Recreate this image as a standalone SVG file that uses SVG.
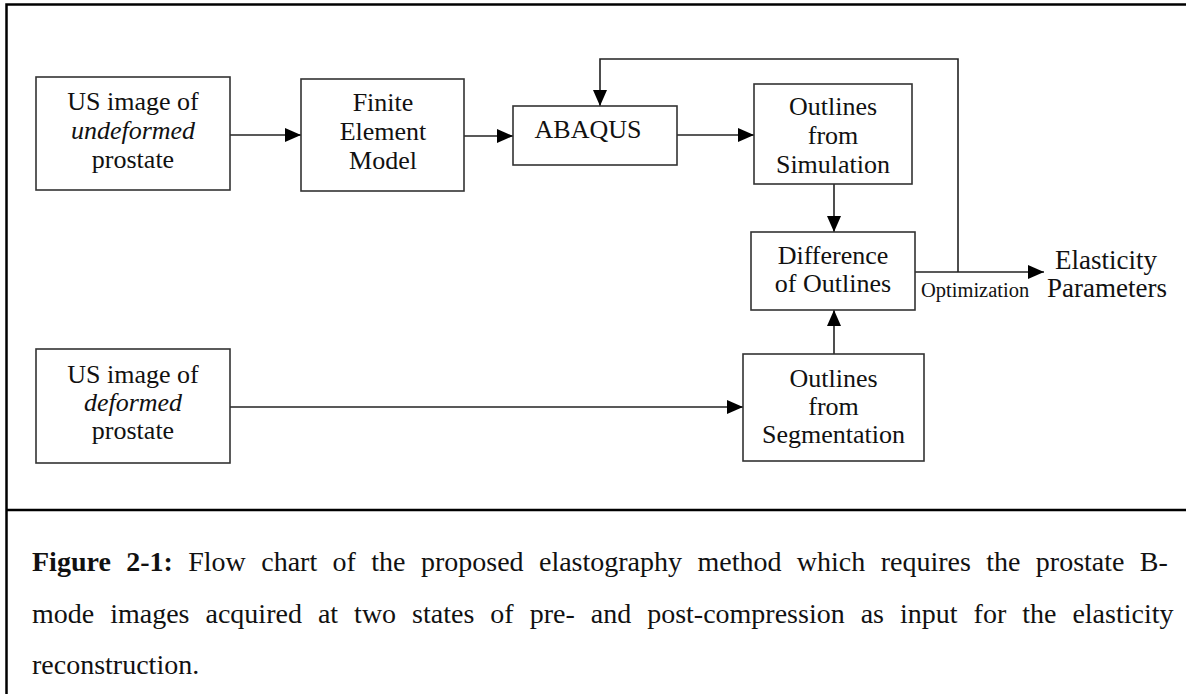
<svg xmlns="http://www.w3.org/2000/svg" width="1186" height="694" viewBox="0 0 1186 694">
<style>
.box{fill:#fff;stroke:#333;stroke-width:1.6}
.t{font-family:"Liberation Serif","Times New Roman",serif;font-size:26px;fill:#111;text-anchor:middle}
.i{font-style:italic}
.edge{fill:none;stroke:#222;stroke-width:1.6}
.frame{fill:none;stroke:#000;stroke-width:2.5}
.cap{font-family:"Liberation Serif","Times New Roman",serif;font-size:28px;fill:#111}
</style>
<defs>
<marker id="ah" markerUnits="userSpaceOnUse" markerWidth="16" markerHeight="14" refX="16" refY="7" orient="auto">
<path d="M0,0 L16,7 L0,14 z" fill="#000"/>
</marker>
</defs>
<rect width="1186" height="694" fill="#fff"/>
<g id="frame">
<path class="frame" d="M1190,4.5 H6.5 V700"/>
<path class="frame" d="M6.5,510 H1190" stroke-width="2.2"/>
</g>
<g id="connectors">
<path class="edge" d="M230,135 H301" marker-end="url(#ah)"/>
<path class="edge" d="M464,136 H513" marker-end="url(#ah)"/>
<path class="edge" d="M677,135 H754" marker-end="url(#ah)"/>
<path class="edge" d="M834,184 V232" marker-end="url(#ah)"/>
<path class="edge" d="M834,354 V310" marker-end="url(#ah)"/>
<path class="edge" d="M230,407 H743" marker-end="url(#ah)"/>
<path class="edge" d="M915,272 H1044" marker-end="url(#ah)"/>
<path class="edge" d="M958,272 V59 H600 V106" marker-end="url(#ah)"/>
</g>
<g id="us-undeformed">
<rect class="box" x="36" y="77" width="194" height="113"/>
<text class="t" x="133" y="110">US image of</text>
<text class="t i" x="133" y="139">undeformed</text>
<text class="t" x="133" y="168">prostate</text>
</g>
<g id="fem">
<rect class="box" x="301" y="79" width="163" height="112"/>
<text class="t" x="383" y="111">Finite</text>
<text class="t" x="383" y="140">Element</text>
<text class="t" x="383" y="169">Model</text>
</g>
<g id="abaqus">
<rect class="box" x="513" y="106" width="164" height="59"/>
<text class="t" x="588" y="138">ABAQUS</text>
</g>
<g id="outlines-sim">
<rect class="box" x="754" y="84" width="158" height="100"/>
<text class="t" x="833" y="115">Outlines</text>
<text class="t" x="833" y="144">from</text>
<text class="t" x="833" y="173">Simulation</text>
</g>
<g id="difference">
<rect class="box" x="751" y="232" width="164" height="78"/>
<text class="t" x="833" y="264">Difference</text>
<text class="t" x="833" y="292">of Outlines</text>
</g>
<g id="outlines-seg">
<rect class="box" x="743" y="354" width="181" height="107"/>
<text class="t" x="833.5" y="387">Outlines</text>
<text class="t" x="833.5" y="415">from</text>
<text class="t" x="833.5" y="443">Segmentation</text>
</g>
<g id="us-deformed">
<rect class="box" x="36" y="349" width="194" height="114"/>
<text class="t" x="133" y="383">US image of</text>
<text class="t i" x="133" y="411">deformed</text>
<text class="t" x="133" y="439">prostate</text>
</g>
<g id="optimization-label">
<text class="t" x="921" y="297" style="font-size:20.5px;text-anchor:start">Optimization</text>
</g>
<g id="elasticity">
<text class="t" x="1106" y="269" style="font-size:27px">Elasticity</text>
<text class="t" x="1107" y="297" style="font-size:27px">Parameters</text>
</g>
<g id="caption">
<text class="cap" x="32" y="571" word-spacing="8.4"><tspan font-weight="bold">Figure 2-1:</tspan> Flow chart of the proposed elastography method which requires the prostate B-</text>
<text class="cap" x="32" y="623" word-spacing="9">mode images acquired at two states of pre- and post-compression as input for the elasticity</text>
<text class="cap" x="32" y="674">reconstruction.</text>
</g>
</svg>
